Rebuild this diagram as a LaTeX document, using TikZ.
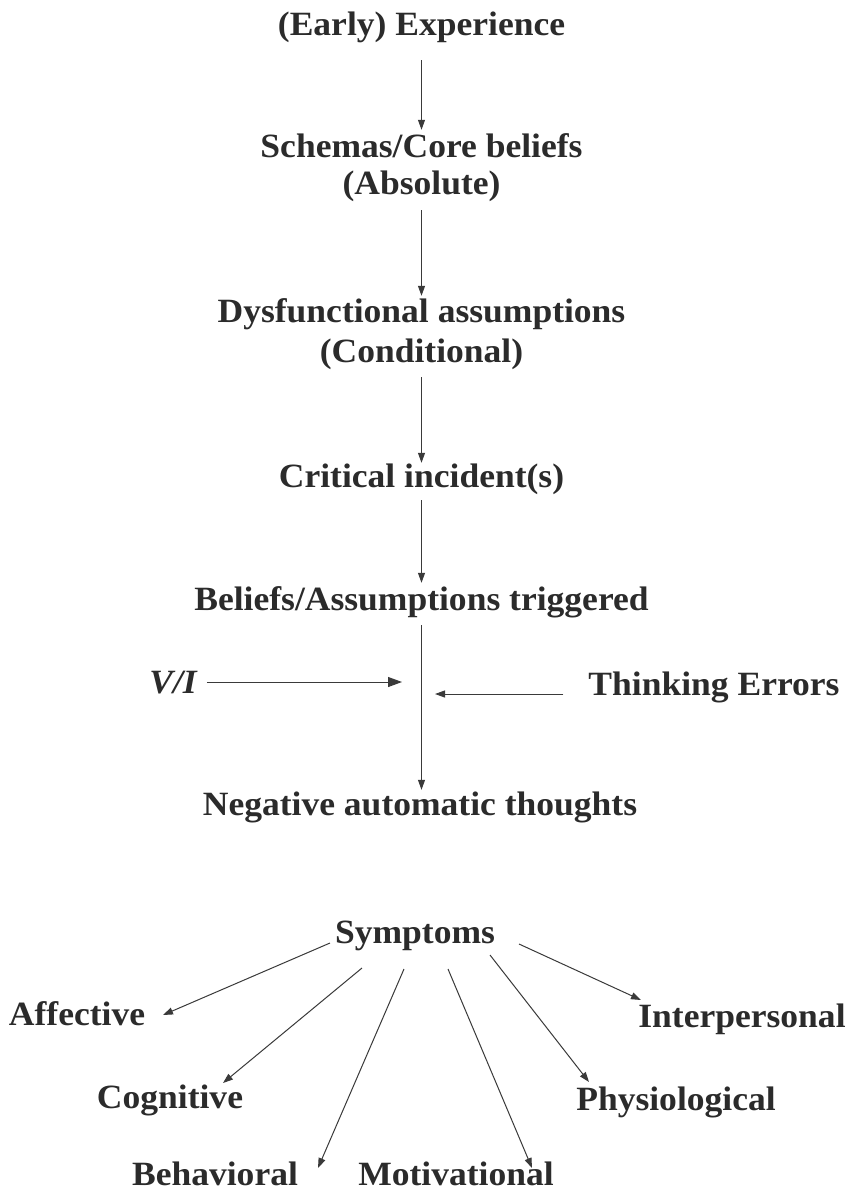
\documentclass[tikz,border=0pt]{standalone}
\usepackage{fontspec}
\setmainfont{Liberation Serif}[FakeStretch=1.045]
\usetikzlibrary{arrows.meta,calc}
\definecolor{ink}{HTML}{2B2B2B}
\definecolor{lineink}{HTML}{3A3A3A}
\tikzset{
  lbl/.style={font=\fontsize{34}{38}\selectfont\bfseries, text=ink, inner sep=0pt,
    text height=23pt, text depth=7pt, anchor=base},
  arr/.style={draw=lineink, line width=1pt, -{Triangle[length=10pt,width=7pt]}},
  bigarr/.style={arr, -{Triangle[length=14pt,width=10pt]}},
}
\begin{document}
\begin{tikzpicture}[x=1pt,y=1pt]
\useasboundingbox[fill=white] (0,0) rectangle (850,-1194);
% main chain
\node[lbl] (exp)  at (421.5,-35)  {(Early) Experience};
\node[lbl] (sch)  at (421.5,-157) {Schemas/Core beliefs};
\node[lbl] (abs)  at (421.5,-194) {(Absolute)};
\node[lbl] (dys)  at (421.5,-322) {Dysfunctional assumptions};
\node[lbl] (cond) at (421.5,-362) {(Conditional)};
\node[lbl] (crit) at (421.5,-487) {Critical incident(s)};
\node[lbl] (bel)  at (421.5,-610) {Beliefs/Assumptions triggered};
\node[lbl] (neg)  at (420,-815)   {Negative automatic thoughts};
\node[lbl,font=\fontsize{34}{38}\selectfont\bfseries\itshape] (vi) at (173,-693) {V/I};
\node[lbl] (te)   at (714,-695)   {Thinking Errors};
\coordinate (vie) at (402,-682);
\coordinate (tee) at (435,-694);

\draw[arr, shorten <=18pt, shorten >=4pt] (exp) -- (sch);
\draw[arr, shorten <=9pt, shorten >=3pt] (abs) -- (dys);
\draw[arr, shorten <=8pt, shorten >=1pt] (cond) -- (crit);
\draw[arr, shorten <=6pt, shorten >=4pt] (crit) -- (bel);
\draw[arr, shorten <=8pt, shorten >=2pt] (bel.south) -- (bel.south |- neg.north);
\draw[bigarr, shorten <=10pt] (vi.east |- vie) -- (vie);
\draw[arr, shorten <=25pt] (te.west |- tee) -- (tee);

% symptoms
\node[lbl] (sym)  at (415,-943)  {Symptoms};
\node[lbl] (aff)  at (77,-1025)  {Affective};
\node[lbl] (cog)  at (170,-1108) {Cognitive};
\node[lbl] (beh)  at (215,-1185) {Behavioral};
\node[lbl] (mot)  at (456,-1185) {Motivational};
\node[lbl] (phy)  at (676,-1110) {Physiological};
\node[lbl] (int)  at (742,-1027) {Interpersonal};

\draw[arr] ($(sym.base)+(-85,0)$)   -- ($(aff.base)+(86,10)$);
\draw[arr] ($(sym.base)+(-53,-25)$) -- ($(cog.base)+(53,25)$);
\draw[arr] ($(sym.base)+(-11,-26)$) -- ($(beh.base)+(103,17)$);
\draw[arr] ($(sym.base)+(33,-26)$)  -- ($(mot.base)+(76,17)$);
\draw[arr] ($(sym.base)+(75,-12)$)  -- ($(phy.base)+(-87,28)$);
\draw[arr] ($(sym.base)+(104,-1)$)  -- ($(int.base)+(-101,27)$);
\end{tikzpicture}
\end{document}
